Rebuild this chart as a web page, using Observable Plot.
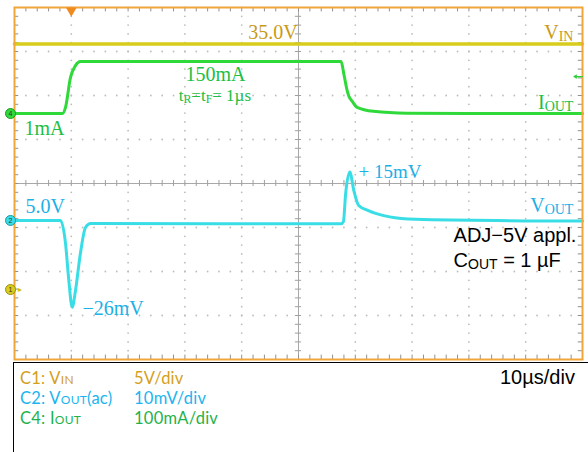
<!DOCTYPE html>
<html><head><meta charset="utf-8">
<script src="https://cdn.jsdelivr.net/npm/d3@7"></script>
<script src="https://cdn.jsdelivr.net/npm/@observablehq/plot@0.6"></script>
<style>
body{margin:0;background:#fff;width:588px;height:452px;overflow:hidden;position:relative}
#chart svg{display:block}
#legend{position:absolute;left:13px;top:362px;width:580px;height:100px;border:1px solid #000;box-sizing:border-box;font-family:Lato,"Open Sans",sans-serif;font-size:16.5px;line-height:19.8px;letter-spacing:0.25px}
.row{position:absolute;left:6px;white-space:nowrap;height:19.8px}
.row .sc{position:absolute;left:114px;top:0}
.small{font-size:12px}
#tb{position:absolute;left:486px;top:3px;font-family:"Liberation Sans",Arial,sans-serif;font-size:20px;line-height:22px;letter-spacing:0;color:#000}
</style></head><body>
<div id="chart"></div>
<div id="legend"></div>
<script>
// ---- channel setup (offset in divisions, units per division) ----
const channelIds = ["1", "2", "4"];
const channelOffsetDiv = [-2.41, -0.84, 1.59];
const channelPerDiv = [5, 10, 100];          // V/div, mV/div, mA/div
const channelColors = ["#d8cc1c", "#38dde6", "#2fd93a"];
const channelMarkerStroke = ["#9c9010", "#1a9aa8", "#1a9a22"];
const timePerDiv = 10;                       // µs/div

// ---- C1: VIN (V) ----
const vinTime = [0, 100];
const vinVolts = [27.9, 27.9];

// ---- C4: IOUT (mA) ----
const ioutTime = [0, 8.45, 8.98, 9.86, 10.74, 11.6, 57.5, 57.98, 58.57, 58.85, 59.45, 60.33, 63.2, 69.1, 80, 100];
const ioutMA   = [0, 0,    14,   82,   109,   118,  118,  90,    52,    40,    28,    14,    5,    0.7,  0,  0];

// ---- C2: VOUT ac (mV) ----
const voutTime = [0, 8.1, 8.98, 9.56, 10.16, 10.74, 11.6, 12.5, 13.4, 57.5, 57.9, 58.3, 59.03, 59.74, 60.6, 62.2, 65.0, 67.0, 72, 100];
const voutMV   = [0, 0,  -5.2, -13.6, -19.7, -15.9, -7.5, -1.6, -0.7, -0.75, -0.3, 6.1, 11.0, 6.8, 3.4, 2.3, 1.1, 0.6, 0.2, -0.15];

// ---- trigger ----
const triggerTime = [10];
const triggerLevelMA = [84];

// ---- annotations (time µs, divisions) ----
const annText   = ["35.0V", "V_{IN}", "150mA", "t_{R}=t_{F}= 1µs", "1mA", "I_{OUT}", "5.0V", "−26mV", "+ 15mV", "V_{OUT}", "ADJ−5V appl.", "C_{OUT} = 1 µF"];
const annT      = [49.85, 98.4, 30.1, 28.9, 1.76, 98.4, 1.94, 11.97, 60.56, 98.4, 77.3, 77.3];
const annDiv    = [3.44, 3.44, 2.48, 2.0, 1.24, 1.85, -0.53, -2.84, 0.26, -0.51, -1.19, -1.76];
const annAnchor = ["end", "end", "start", "start", "start", "end", "start", "start", "start", "end", "start", "start"];
const annColor  = ["#c99a16", "#c99a16", "#20be44", "#20be44", "#20be44", "#20be44", "#1bb0e6", "#1bb0e6", "#1bb0e6", "#1bb0e6", "#000", "#000"];
const annSize   = [20, 20, 20, 17, 20, 20, 20, 20, 19, 20, 20, 20];
const annSerif  = [true, true, true, true, true, true, true, true, true, true, false, false];

// ---- legend ----
const legendLabels = ["C1: V_{IN}", "C2: V_{OUT}(ac)", "C4: I_{OUT}"];
const legendScales = ["5V/div", "10mV/div", "100mA/div"];
const legendColors = ["#d4a01c", "#1cb4f0", "#1fb24b"];
const timebaseLabel = "10µs/div";

// build tables
const vin = vinTime.map((t, i) => ({t, v: vinVolts[i]}));
const iout = ioutTime.map((t, i) => ({t, v: ioutMA[i]}));
const vout = voutTime.map((t, i) => ({t, v: voutMV[i]}));
const toDiv = (k) => (d) => channelOffsetDiv[k] + d.v / channelPerDiv[k];
const chans = channelIds.map((id, i) => ({id, y: channelOffsetDiv[i], fill: channelColors[i], stroke: channelMarkerStroke[i]}));
const ann = annText.map((text, i) => ({text, t: annT[i], y: annDiv[i], anchor: annAnchor[i], color: annColor[i], size: annSize[i], serif: annSerif[i]}));

const xMinor = d3.range(0, 100.001, timePerDiv / 5);
const yMinor = d3.range(-4, 4.0001, 0.2);
const gridPts = [];
for (const t of [10, 20, 30, 40, 60, 70, 80, 90]) for (const y of yMinor) gridPts.push({t, y});
for (const y of [-3, -2, -1, 1, 2, 3]) for (const t of xMinor) gridPts.push({t, y});

const annMarks = ann.map(a => Plot.text([a], {
  x: "t", y: "y", text: "text", textAnchor: a.anchor, lineAnchor: "middle",
  fill: a.color, fontSize: a.size,
  fontFamily: a.serif ? "'Liberation Serif', 'DejaVu Serif', serif" : "'Liberation Sans', Arial, sans-serif"
}));

const plot = Plot.plot({
  width: 588, height: 362,
  marginLeft: 14, marginRight: 6, marginTop: 7, marginBottom: 3,
  x: {domain: [0, 100], axis: null},
  y: {domain: [-4, 4], axis: null},
  style: {background: "white", overflow: "visible"},
  marks: [
    Plot.dot(gridPts, {x: "t", y: "y", r: 0.9, fill: "#bdbdbd", stroke: null}),
    Plot.ruleX([50], {stroke: "#a8a8a8", strokeWidth: 1}),
    Plot.ruleY([0], {stroke: "#a8a8a8", strokeWidth: 1}),
    Plot.ruleX(xMinor, {x: d => d, y1: -0.07, y2: 0.07, stroke: "#a0a0a0"}),
    Plot.ruleY(yMinor, {y: d => d, x1: 49.45, x2: 50.55, stroke: "#a0a0a0"}),
    Plot.ruleX(xMinor, {x: d => d, y1: 4, y2: 3.9, stroke: "#909090"}),
    Plot.ruleX(xMinor, {x: d => d, y1: -4, y2: -3.9, stroke: "#909090"}),
    Plot.ruleY(yMinor, {y: d => d, x1: 0, x2: 0.75, stroke: "#909090"}),
    Plot.ruleY(yMinor, {y: d => d, x1: 99.25, x2: 100, stroke: "#909090"}),
    Plot.line(vin, {x: "t", y: toDiv(0), stroke: channelColors[0], strokeWidth: 3.5}),
    Plot.line(iout, {x: "t", y: toDiv(2), stroke: channelColors[2], strokeWidth: 3, curve: "monotone-x"}),
    Plot.line(vout, {x: "t", y: toDiv(1), stroke: channelColors[1], strokeWidth: 3, curve: "monotone-x"}),
    Plot.frame({stroke: "#f2a63a", strokeWidth: 2}),
    Plot.dot(triggerTime, {x: d => d, y: 4, dy: 3, symbol: "triangle", rotate: 180, r: 4, fill: "#f08a1e", stroke: null}),
    Plot.arrow(triggerLevelMA, {x1: 100, x2: 98.5, y1: d => channelOffsetDiv[2] + d / channelPerDiv[2], y2: d => channelOffsetDiv[2] + d / channelPerDiv[2], stroke: "#2fcf3a", strokeWidth: 1.2, headLength: 5}),
    Plot.dot(chans, {x: 0, y: "y", dx: -4, r: 5, fill: "fill", stroke: "stroke", strokeWidth: 1}),
    Plot.text(chans, {x: 0, y: "y", dx: -4, text: "id", fontSize: 7, fill: "#333", fontFamily: "'Liberation Sans', sans-serif"}),
    Plot.text(chans.filter(c => c.id === "1"), {x: 0, y: "y", dx: 5, text: () => "▸", fontSize: 8, fill: "#d8c000"}),
    ...annMarks
  ]
});

// subscripts: "_{..}" -> smaller tspans
function subscriptify(root) {
  d3.select(root).selectAll("text").each(function () {
    const txt = this.textContent;
    if (!txt.includes("_{")) return;
    const parts = txt.split(/(_\{[^}]*\})/).filter(p => p);
    this.textContent = "";
    let down = false;
    for (const p of parts) {
      const ts = d3.select(this).append("tspan");
      if (p.startsWith("_{")) {
        ts.text(p.slice(2, -1)).attr("font-size", "70%");
        if (!down) { ts.attr("dy", 2); down = true; }
      } else {
        ts.text(p);
        if (down) { ts.attr("dy", -2); down = false; }
      }
    }
  });
}
subscriptify(plot);
document.getElementById("chart").appendChild(plot);

// legend
const leg = document.getElementById("legend");
const html = s => s.replace(/_\{([^}]*)\}/g, '<span class="small">$1</span>');
legendLabels.forEach((lab, i) => {
  const row = document.createElement("div");
  row.className = "row";
  row.style.top = (6 + i * 19.8) + "px";
  row.style.color = legendColors[i];
  row.innerHTML = html(lab) + '<span class="sc">' + legendScales[i] + '</span>';
  leg.appendChild(row);
});
const tb = document.createElement("div");
tb.id = "tb";
tb.textContent = timebaseLabel;
leg.appendChild(tb);
</script>
</body></html>
